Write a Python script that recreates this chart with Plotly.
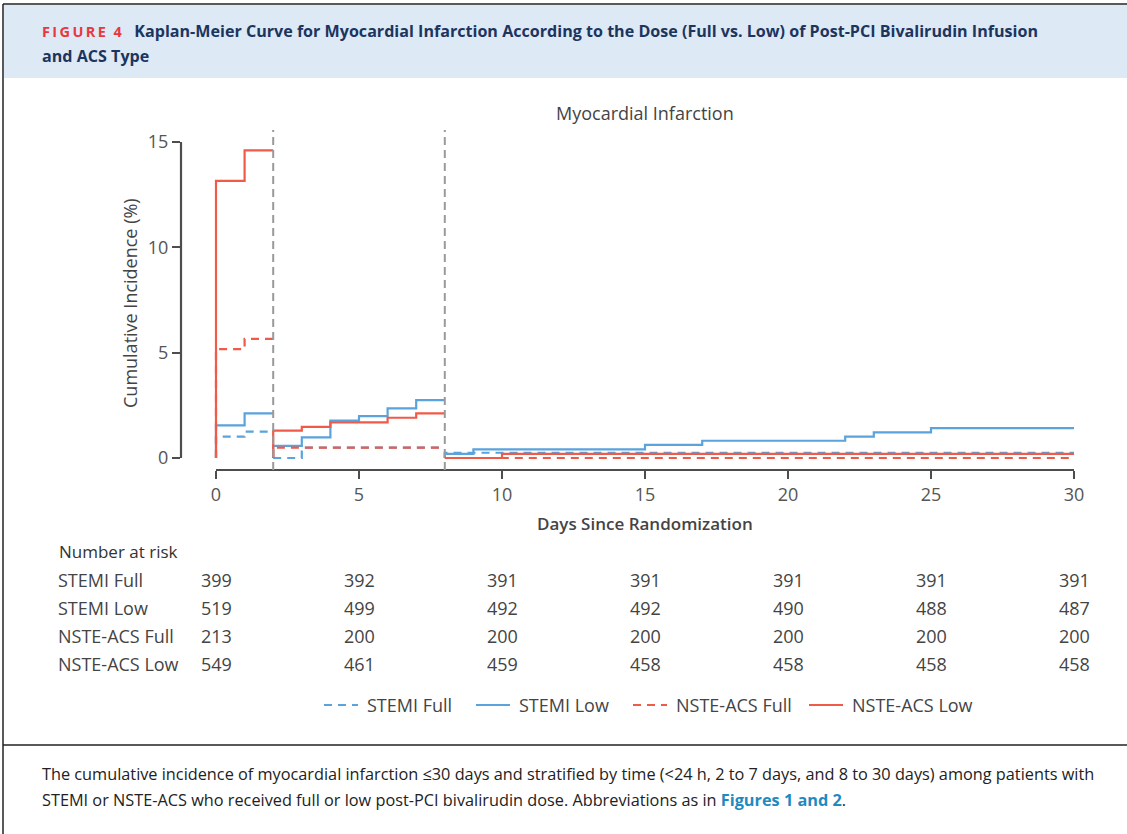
import plotly.graph_objects as go

# ---------------- data ----------------
segment_bounds = [(0, 2), (2, 8), (8, 30)]

stemi_full_t = [[0, 1], [2, 3], [8]]
stemi_full_v = [[1.01, 1.25], [0.0, 0.49], [0.25]]

stemi_low_t = [[0, 1], [2, 3, 4, 5, 6, 7], [8, 9, 15, 17, 22, 23, 25]]
stemi_low_v = [[1.55, 2.12], [0.58, 0.98, 1.77, 1.99, 2.36, 2.75],
               [0.2, 0.41, 0.62, 0.82, 1.01, 1.22, 1.42]]

nste_full_t = [[0, 1], [2], [8]]
nste_full_v = [[5.17, 5.65], [0.49], [0.0]]

nste_low_t = [[0, 1], [2, 3, 4, 6, 7], [8, 10]]
nste_low_v = [[13.15, 14.6], [1.3, 1.48, 1.69, 1.91, 2.12], [0.0, 0.2]]

series_names = ["STEMI Full", "STEMI Low", "NSTE-ACS Full", "NSTE-ACS Low"]
x_ticks = [0, 5, 10, 15, 20, 25, 30]
y_ticks = [0, 5, 10, 15]
breaks = [2, 8]

risk_times = [0, 5, 10, 15, 20, 25, 30]
risk_stemi_full = [399, 392, 391, 391, 391, 391, 391]
risk_stemi_low = [519, 499, 492, 492, 490, 488, 487]
risk_nste_full = [213, 200, 200, 200, 200, 200, 200]
risk_nste_low = [549, 461, 459, 458, 458, 458, 458]

# ---------------- layout helpers ----------------
FW, FH = 1127, 834
L, R, T, B = 181, 1078, 128, 470
W, H = R - L, B - T


def px(x):
    return (x - L) / W


def py(y):
    return (B - y) / H


BLUE = "#5aa3dc"
RED = "#f05a48"
TXT = "#444444"
FONT = "Open Sans"
DASH = "8px,6px"


def build(ts, vs):
    xs, ys = [], []
    for (s, e), t, v in zip(segment_bounds, ts, vs):
        xs += [s] + list(t) + [e, None]
        ys += [0] + list(v) + [v[-1], None]
    return xs, ys


fig = go.Figure()
styles = [(BLUE, DASH), (BLUE, "solid"), (RED, DASH), (RED, "solid")]
all_t = [stemi_full_t, stemi_low_t, nste_full_t, nste_low_t]
all_v = [stemi_full_v, stemi_low_v, nste_full_v, nste_low_v]
for name, (col, dash), t, v in zip(series_names, styles, all_t, all_v):
    xs, ys = build(t, v)
    fig.add_trace(go.Scatter(x=xs, y=ys, mode="lines", name=name,
                             line=dict(color=col, width=2.2, dash=dash, shape="hv"),
                             connectgaps=False, hoverinfo="skip", showlegend=False))

shapes = []
# header band and borders
shapes.append(dict(type="rect", xref="paper", yref="paper", x0=px(4), x1=px(FW + 5),
                   y0=py(78), y1=py(5), fillcolor="#dde9f5", line=dict(width=0), layer="below"))
shapes.append(dict(type="line", xref="paper", yref="paper", x0=px(3), x1=px(FW + 5),
                   y0=py(4), y1=py(4), line=dict(color="#222", width=1.5)))
shapes.append(dict(type="line", xref="paper", yref="paper", x0=px(3), x1=px(3),
                   y0=py(4), y1=py(FH + 5), line=dict(color="#222", width=1.5)))
shapes.append(dict(type="line", xref="paper", yref="paper", x0=px(3), x1=px(FW + 5),
                   y0=py(745), y1=py(745), line=dict(color="#222", width=1.5)))
# axis lines
shapes.append(dict(type="line", xref="x", yref="paper", x0=x_ticks[0], x1=x_ticks[-1],
                   y0=0, y1=0, line=dict(color="#4d4d4d", width=2.2)))
shapes.append(dict(type="line", xref="paper", yref="y", x0=0, x1=0,
                   y0=y_ticks[0], y1=y_ticks[-1], line=dict(color="#4d4d4d", width=2.2)))
# period breaks
for b in breaks:
    shapes.append(dict(type="line", xref="x", yref="paper", x0=b, x1=b, y0=0, y1=py(130),
                       line=dict(color="#9a9a9a", width=2, dash="8px,5px")))

ann = []
HFONT = dict(family=FONT, size=16.1, color="#1c355e")
fig_label = "\u2009".join("FIGURE") + "\u00a0\u00a04"
ann.append(dict(xref="paper", yref="paper", x=px(40), y=py(31), xanchor="left", yanchor="middle",
                showarrow=False,
                text="<b><span style='color:#e8383d;font-size:14.5px'>" + fig_label + "</span>\u00a0\u00a0\u00a0Kaplan-Meier Curve for Myocardial Infarction According to the Dose (Full vs. Low) of Post-PCI Bivalirudin Infusion</b>",
                font=HFONT))
ann.append(dict(xref="paper", yref="paper", x=px(40), y=py(56), xanchor="left", yanchor="middle",
                showarrow=False, text="<b>and ACS Type</b>", font=HFONT))
ann.append(dict(xref="x", yref="paper", x=15, y=py(113), xanchor="center", yanchor="middle",
                showarrow=False, text="Myocardial Infarction",
                font=dict(family=FONT, size=18, color=TXT, weight=500)))
ann.append(dict(xref="paper", yref="paper", x=px(130), y=py(303), xanchor="center", yanchor="middle",
                showarrow=False, text="Cumulative Incidence (%)", textangle=-90,
                font=dict(family=FONT, size=18, color=TXT)))
ann.append(dict(xref="x", yref="paper", x=15, y=py(523), xanchor="center", yanchor="middle",
                showarrow=False, text="Days Since Randomization",
                font=dict(family=FONT, size=17, color=TXT, weight=600)))
ann.append(dict(xref="paper", yref="paper", x=px(57), y=py(551), xanchor="left", yanchor="middle",
                showarrow=False, text="Number at risk",
                font=dict(family=FONT, size=17, color="#333")))
row_y = [580, 608, 636, 664]
risks = [risk_stemi_full, risk_stemi_low, risk_nste_full, risk_nste_low]
for name, ry, vals in zip(series_names, row_y, risks):
    ann.append(dict(xref="paper", yref="paper", x=px(56), y=py(ry), xanchor="left", yanchor="middle",
                    showarrow=False, text=name, font=dict(family=FONT, size=18, color=TXT)))
    for t, v in zip(risk_times, vals):
        ann.append(dict(xref="x", yref="paper", x=t, y=py(ry), xanchor="center", yanchor="middle",
                        showarrow=False, text=str(v), font=dict(family=FONT, size=18, color=TXT)))

# manual legend
leg_x = [324, 476, 633, 809]
leg_y = 705
for name, (col, dash), lx in zip(series_names, styles, leg_x):
    shapes.append(dict(type="line", xref="paper", yref="paper", x0=px(lx), x1=px(lx + 34),
                       y0=py(leg_y), y1=py(leg_y), line=dict(color=col, width=2.2, dash=dash)))
    ann.append(dict(xref="paper", yref="paper", x=px(lx + 41), y=py(leg_y), xanchor="left",
                    yanchor="middle", showarrow=False, text=name,
                    font=dict(family=FONT, size=18, color=TXT)))

CFONT = dict(family=FONT, size=16.3, color="#222")
ann.append(dict(xref="paper", yref="paper", x=px(40), y=py(774), xanchor="left", yanchor="middle",
                showarrow=False,
                text="The cumulative incidence of myocardial infarction ≤30 days and stratified by time (&lt;24 h, 2 to 7 days, and 8 to 30 days) among patients with",
                font=CFONT))
ann.append(dict(xref="paper", yref="paper", x=px(40), y=py(800), xanchor="left", yanchor="middle",
                showarrow=False,
                text="STEMI or NSTE-ACS who received full or low post-PCI bivalirudin dose. Abbreviations as in <b><span style='color:#1f8ac0'>Figures 1 and 2</span></b>.",
                font=CFONT))

fig.update_layout(
    width=FW, height=FH,
    margin=dict(l=L, r=FW - R, t=T, b=FH - B),
    paper_bgcolor="white", plot_bgcolor="white",
    shapes=shapes, annotations=ann,
    showlegend=False,
    xaxis=dict(range=[(L - 216) / 28.6, (R - 216) / 28.6], tickvals=x_ticks,
               showline=False, showgrid=False, zeroline=False,
               ticks="outside", ticklen=8, tickwidth=2, tickcolor="#4d4d4d",
               tickfont=dict(family=FONT, size=18, color="#555")),
    yaxis=dict(range=[-(B - 458) / 21.067, (458 - T) / 21.067], tickvals=y_ticks,
               showline=False, showgrid=False, zeroline=False,
               ticks="outside", ticklen=8, tickwidth=2, tickcolor="#4d4d4d",
               tickfont=dict(family=FONT, size=18, color="#555")),
)

fig.write_html("out.html")
